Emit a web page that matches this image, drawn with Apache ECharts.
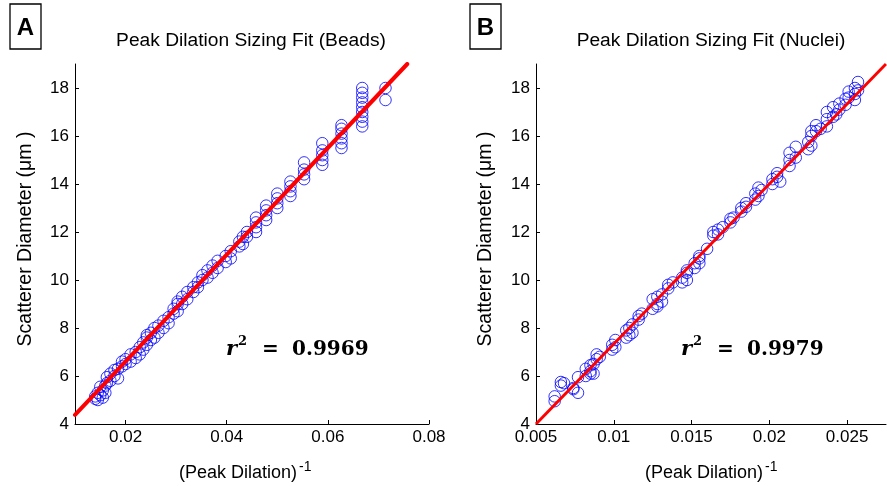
<!DOCTYPE html>
<html>
<head>
<meta charset="utf-8">
<script src="https://cdn.jsdelivr.net/npm/echarts@6.0.0/dist/echarts.min.js"></script>
<style>
html,body{margin:0;padding:0;background:#fff;}
#chart{width:887px;height:486px;}
</style>
</head>
<body>
<div id="chart"></div>
<script>
// ---------- Panel A (Beads) ----------
const beadsX = [
  0.0140,0.0140,0.0145,0.0145,0.0150,0.0150,0.0155,0.0155,0.0160,0.0160,0.0163,0.0163,
  0.0170,0.0170,0.0178,0.0178,0.0185,0.0185,0.0193,0.0193,0.0200,0.0200,0.0210,0.0210,
  0.0220,0.0220,0.0228,0.0228,0.0235,0.0235,0.0242,0.0242,0.0242,0.0250,0.0250,0.0257,0.0257,
  0.0265,0.0265,0.0275,0.0275,0.0285,0.0285,0.0295,0.0295,0.0303,0.0303,0.0303,
  0.0312,0.0312,0.0322,0.0322,0.0334,0.0334,0.0343,0.0343,0.0352,0.0352,0.0362,0.0362,
  0.0372,0.0372,0.0382,0.0382,0.0398,0.0398,0.0408,0.0408,0.0425,0.0425,0.0432,0.0432,
  0.0440,0.0440,
  0.0458,0.0458,0.0458,0.0458,
  0.0478,0.0478,0.0478,0.0478,
  0.0500,0.0500,0.0500,0.0500,
  0.0526,0.0526,0.0526,0.0526,
  0.0553,0.0553,0.0553,0.0553,
  0.0589,0.0589,0.0589,0.0589,0.0589,
  0.0627,0.0627,0.0627,0.0627,0.0627,0.0627,
  0.0668,0.0668,0.0668,0.0668,0.0668,0.0668,0.0668,0.0668,0.0668,
  0.0714,0.0714
];
const beadsY = [
  5.05,5.15,5.00,5.30,5.55,5.20,5.10,5.40,5.30,5.60,5.95,5.70,
  5.80,6.10,6.00,6.25,5.90,6.30,6.40,6.60,6.50,6.70,6.60,6.90,
  6.75,7.00,6.90,7.20,7.10,7.40,7.30,7.60,7.70,7.50,7.80,7.60,8.00,
  7.80,8.10,8.00,8.30,8.20,8.45,8.60,8.80,8.70,9.00,9.10,
  9.00,9.30,9.20,9.50,9.50,9.70,9.70,9.90,10.00,10.20,10.10,10.40,
  10.30,10.60,10.50,10.80,10.75,11.00,10.90,11.20,11.40,11.60,11.50,11.80,
  11.80,12.00,
  12.00,12.20,12.40,12.60,
  12.50,12.70,12.90,13.10,
  13.00,13.20,13.40,13.60,
  13.50,13.70,13.90,14.10,
  14.20,14.40,14.60,14.90,
  14.80,15.00,15.20,15.40,15.70,
  15.50,15.70,15.90,16.10,16.30,16.45,
  16.40,16.60,16.80,17.00,17.20,17.40,17.60,17.80,18.00,
  17.50,18.00
];
const fitAX = [0.0100, 0.0757];
const fitAY = [4.38, 19.0];
const xTicksA = [0.02, 0.04, 0.06, 0.08];
const xTickLabelsA = ['0.02', '0.04', '0.06', '0.08'];

// ---------- Panel B (Nuclei) ----------
const nucleiX = [
  0.0062,0.0062,0.0066,0.0066,0.0068,0.0074,0.0074,0.0077,0.0077,0.0082,0.0082,
  0.0085,0.0085,0.0085,0.0087,0.0087,0.0089,0.0089,0.0091,0.0099,0.0099,0.0101,0.0101,
  0.0108,0.0108,0.0110,0.0110,0.0112,0.0112,0.0116,0.0116,0.0118,
  0.0125,0.0125,0.0128,0.0128,0.0128,0.0131,0.0131,0.0135,0.0135,0.0138,
  0.0144,0.0144,0.0147,0.0147,0.0147,0.0152,0.0152,0.0155,0.0155,0.0155,
  0.0160,0.0164,0.0164,0.0167,0.0167,0.0170,0.0175,0.0175,0.0177,0.0182,0.0182,0.0185,0.0185,
  0.0191,0.0191,0.0193,0.0193,0.0195,0.0202,0.0202,0.0205,0.0205,0.0207,
  0.0213,0.0213,0.0213,0.0217,0.0217,0.0225,0.0225,0.0227,0.0227,0.0227,
  0.0230,0.0230,0.0233,0.0237,0.0237,0.0237,0.0241,0.0241,0.0243,0.0245,0.0245,
  0.0249,0.0249,0.0251,0.0251,0.0255,0.0255,0.0255,0.0257,0.0257
];
const nucleiY = [
  4.95,5.15,5.60,5.75,5.70,5.45,5.50,5.30,5.95,6.00,6.30,
  6.10,6.45,6.20,6.50,6.10,6.70,6.90,6.80,7.10,7.30,7.50,7.20,
  7.60,7.90,8.00,7.70,8.15,7.80,8.35,8.50,8.60,
  8.80,9.20,9.30,8.90,9.00,9.40,9.10,9.65,9.80,9.90,
  9.90,10.10,10.30,10.40,10.00,10.50,10.70,10.90,11.00,10.70,
  11.30,11.85,12.00,12.10,11.90,12.20,12.40,12.55,12.60,12.85,13.00,13.20,13.05,
  13.35,13.60,13.85,13.50,13.75,14.00,14.20,14.45,14.30,14.10,
  14.75,15.00,15.30,15.55,15.10,15.45,15.75,16.00,16.20,15.60,
  16.20,16.45,16.30,16.40,16.70,17.00,17.20,16.80,16.90,17.10,17.35,
  17.30,17.55,17.85,17.60,17.50,17.75,18.00,18.25,17.90
];
const fitBX = [0.005, 0.0275];
const fitBY = [4.0, 19.0];
const xTicksB = [0.005, 0.01, 0.015, 0.02, 0.025];
const xTickLabelsB = ['0.005', '0.01', '0.015', '0.02', '0.025'];

// ---------- Shared ----------
const yTicks = [4, 6, 8, 10, 12, 14, 16, 18];
const yTickLabels = ['4', '6', '8', '10', '12', '14', '16', '18'];
const titles = ['Peak Dilation Sizing Fit (Beads)', 'Peak Dilation Sizing Fit (Nuclei)'];
const panelLetters = ['A', 'B'];
const rSquared = ['0.9969', '0.9979'];
const xName = '(Peak Dilation)';
const xNameSup = '-1';
const yName = 'Scatterer Diameter (\u03bcm )';

const SANS = '"Liberation Sans", Arial, sans-serif';
const SERIF = '"DejaVu Serif", serif';

function zip(a, b) { return a.map((v, i) => [v, b[i]]); }
function lookup(vals, labels) {
  return function (v) {
    const i = vals.findIndex(t => Math.abs(t - v) < 1e-9);
    return i >= 0 ? labels[i] : '';
  };
}

function xAxisCfg(gridIndex, min, max, ticks, labels) {
  return {
    type: 'value', gridIndex, min, max,
    axisLine: { show: true, onZero: false, lineStyle: { color: '#000', width: 1 } },
    axisTick: { show: true, inside: true, length: 4, customValues: ticks, lineStyle: { color: '#000' } },
    axisLabel: { customValues: ticks, formatter: lookup(ticks, labels), color: '#000',
                 fontFamily: SANS, fontSize: 17, margin: 5 },
    splitLine: { show: false }
  };
}
function yAxisCfg(gridIndex) {
  return {
    type: 'value', gridIndex, min: 4, max: 19,
    axisLine: { show: true, onZero: false, lineStyle: { color: '#000', width: 1 } },
    axisTick: { show: true, inside: true, length: 4, customValues: yTicks, lineStyle: { color: '#000' } },
    axisLabel: { customValues: yTicks, formatter: lookup(yTicks, yTickLabels), color: '#000',
                 fontFamily: SANS, fontSize: 17, margin: 6 },
    splitLine: { show: false }
  };
}

const scatterStyle = { color: 'rgba(0,0,0,0)', borderColor: '#0000ff', borderWidth: 1 };

function panelGraphics(ox, letter, title, titleX, r2, yLabelX, xLabelRight, rX) {
  return [
    { type: 'rect', shape: { x: ox + 10, y: 4, width: 31, height: 45 },
      style: { fill: '#fff', stroke: '#000', lineWidth: 1.3 } },
    { type: 'text', x: ox + 25.5, y: 28, style: { text: letter, fontFamily: SANS, fontWeight: 'bold',
      fontSize: 24, fill: '#000', textAlign: 'center', textVerticalAlign: 'middle' } },
    { type: 'text', x: titleX, y: 41, style: { text: title, fontFamily: SANS, fontSize: 19.2,
      fill: '#000', textAlign: 'center', textVerticalAlign: 'middle' } },
    { type: 'text', x: yLabelX, y: 239, rotation: Math.PI / 2, style: { text: yName, fontFamily: SANS,
      fontSize: 19.5, fill: '#000', textAlign: 'center', textVerticalAlign: 'middle' } },
    { type: 'text', x: xLabelRight, y: 473, style: { text: xName, fontFamily: SANS, fontSize: 18,
      fill: '#000', textAlign: 'right', textVerticalAlign: 'middle' } },
    { type: 'text', x: xLabelRight + 2, y: 467, style: { text: xNameSup, fontFamily: SANS, fontSize: 14,
      fill: '#000', textAlign: 'left', textVerticalAlign: 'middle' } },
    { type: 'text', x: rX, y: 350, style: { text: 'r', fontFamily: SERIF, fontWeight: 'bold',
      fontStyle: 'italic', fontSize: 21, fill: '#000', textAlign: 'left', textVerticalAlign: 'middle' } },
    { type: 'text', x: rX + 12, y: 342, style: { text: '2', fontFamily: SERIF, fontWeight: 'bold',
      fontSize: 13, fill: '#000', textAlign: 'left', textVerticalAlign: 'middle' } },
    { type: 'text', x: rX + 36, y: 350, style: { text: '=', fontFamily: SERIF, fontWeight: 'bold',
      fontSize: 20, fill: '#000', textAlign: 'left', textVerticalAlign: 'middle' } },
    { type: 'text', x: rX + 66, y: 350, style: { text: r2, fontFamily: SERIF, fontWeight: 'bold',
      fontSize: 20, fill: '#000', textAlign: 'left', textVerticalAlign: 'middle' } }
  ];
}

const chart = echarts.init(document.getElementById('chart'), null, { renderer: 'canvas' });
chart.setOption({
  backgroundColor: '#ffffff',
  animation: false,
  grid: [
    { left: 75, top: 64, width: 354, height: 360, containLabel: false },
    { left: 536, top: 64, width: 350, height: 360, containLabel: false }
  ],
  xAxis: [
    xAxisCfg(0, 0.01, 0.08, xTicksA, xTickLabelsA),
    xAxisCfg(1, 0.005, 0.0275, xTicksB, xTickLabelsB)
  ],
  yAxis: [yAxisCfg(0), yAxisCfg(1)],
  series: [
    { type: 'scatter', xAxisIndex: 0, yAxisIndex: 0, data: zip(beadsX, beadsY), symbol: 'circle',
      symbolSize: 11.5, itemStyle: scatterStyle, emphasis: { disabled: true }, z: 2 },
    { type: 'line', xAxisIndex: 0, yAxisIndex: 0, data: zip(fitAX, fitAY), showSymbol: false,
      symbol: 'none', lineStyle: { color: '#ff0000', width: 4, cap: 'round' }, z: 3, emphasis: { disabled: true } },
    { type: 'scatter', xAxisIndex: 1, yAxisIndex: 1, data: zip(nucleiX, nucleiY), symbol: 'circle',
      symbolSize: 11.5, itemStyle: scatterStyle, emphasis: { disabled: true }, z: 2 },
    { type: 'line', xAxisIndex: 1, yAxisIndex: 1, data: zip(fitBX, fitBY), showSymbol: false,
      symbol: 'none', lineStyle: { color: '#ff0000', width: 3 }, z: 3, emphasis: { disabled: true } }
  ],
  graphic: [].concat(
    panelGraphics(0, panelLetters[0], titles[0], 251, rSquared[0], 26, 297, 226),
    panelGraphics(460, panelLetters[1], titles[1], 711, rSquared[1], 486, 763, 681)
  )
});
</script>
</body>
</html>
